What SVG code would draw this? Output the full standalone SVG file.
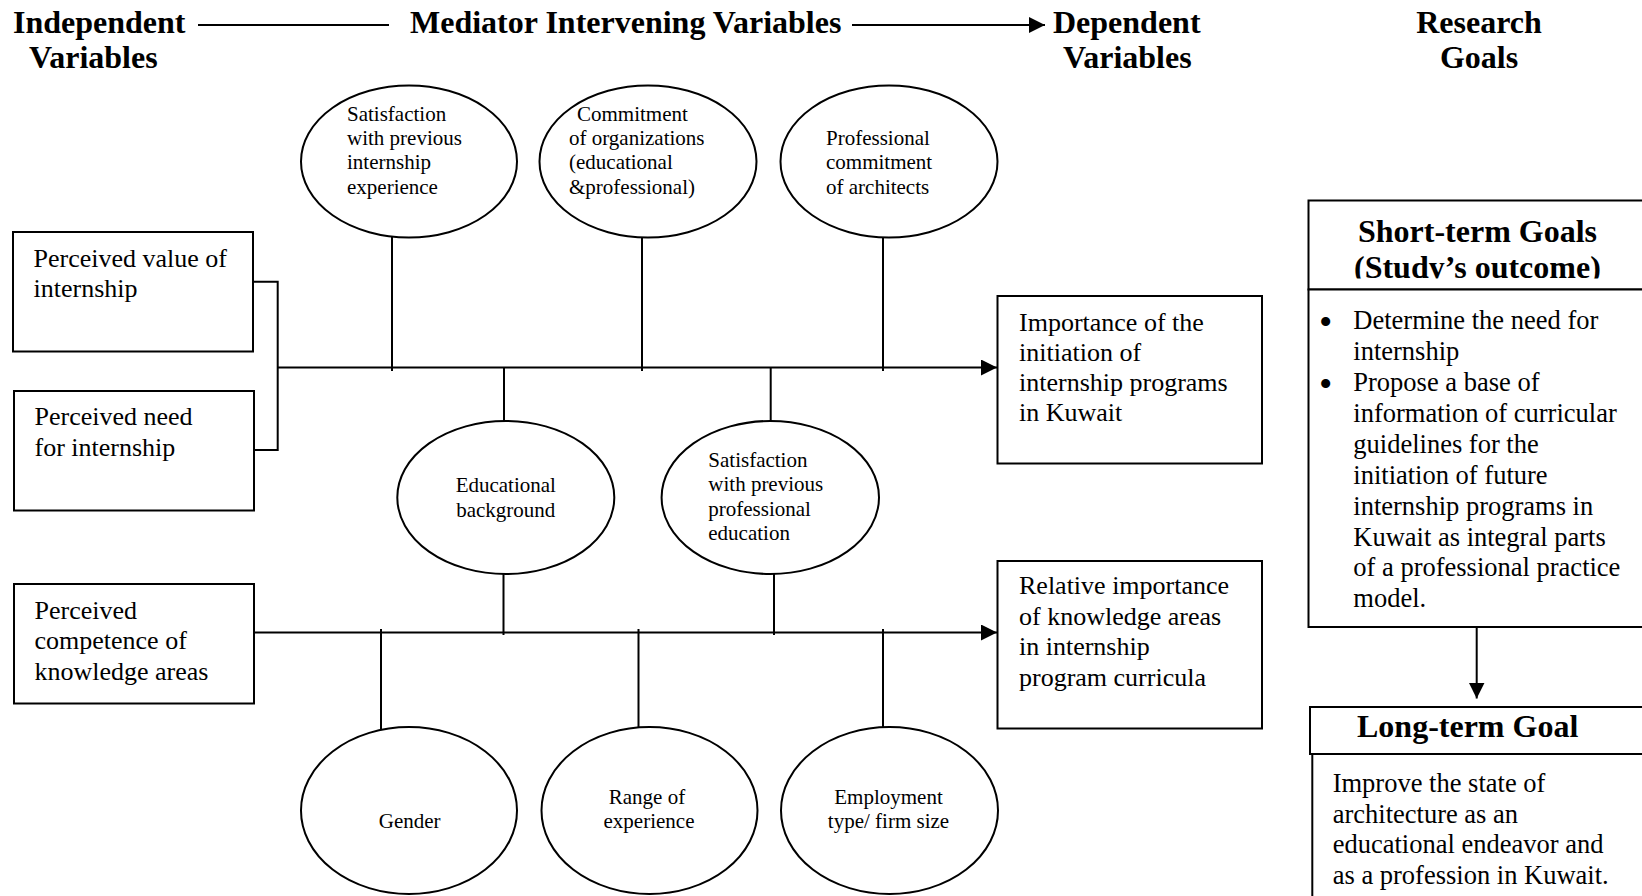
<svg xmlns="http://www.w3.org/2000/svg" width="1642" height="896" viewBox="0 0 1642 896">
<style>
text{font-family:"Liberation Serif","Times New Roman",serif;fill:#000}
.h{font-size:32px;font-weight:bold}
.b{font-size:26px}
.g{font-size:26.5px}
.e{font-size:21px}
.bu{font-size:38px}
.s{fill:#fff;stroke:#000;stroke-width:2}
.l{stroke:#000;stroke-width:2;fill:none}
</style>
<defs>
<marker id="ah" viewBox="0 0 16 16" refX="16" refY="8" markerWidth="16" markerHeight="16" markerUnits="userSpaceOnUse" orient="auto"><path d="M0,0 L16,8 L0,16 Z" fill="#000"/></marker>
<clipPath id="hc"><rect x="1300" y="195" width="342" height="83.5"/></clipPath>
</defs>
<rect width="1642" height="896" fill="#fff"/>
<g id="headings">
<text class="h" x="13" y="33">Independent</text>
<text class="h" x="29" y="68">Variables</text>
<text class="h" x="410" y="33">Mediator Intervening Variables</text>
<text class="h" x="1053" y="33">Dependent</text>
<text class="h" x="1063" y="68">Variables</text>
<text class="h" x="1479" y="33" text-anchor="middle">Research</text>
<text class="h" x="1479" y="68" text-anchor="middle">Goals</text>
</g>
<g id="connectors">
<line class="l" x1="198" y1="25" x2="389" y2="25"/>
<line class="l" x1="852" y1="25" x2="1045" y2="25" marker-end="url(#ah)"/>
<polyline class="l" points="253,281.7 277.7,281.7 277.7,450 254,450"/>
<line class="l" x1="277.7" y1="367.5" x2="997" y2="367.5" marker-end="url(#ah)"/>
<line class="l" x1="254" y1="632.5" x2="997" y2="632.5" marker-end="url(#ah)"/>
<line class="l" x1="392" y1="236" x2="392" y2="371"/>
<line class="l" x1="642" y1="237" x2="642" y2="371"/>
<line class="l" x1="883" y1="237" x2="883" y2="371"/>
<line class="l" x1="504" y1="367.5" x2="504" y2="421"/>
<line class="l" x1="770.7" y1="367.5" x2="770.7" y2="421"/>
<line class="l" x1="503.5" y1="574" x2="503.5" y2="635"/>
<line class="l" x1="774" y1="574" x2="774" y2="635"/>
<line class="l" x1="381" y1="629" x2="381" y2="731"/>
<line class="l" x1="638.5" y1="629" x2="638.5" y2="728"/>
<line class="l" x1="883" y1="629" x2="883" y2="728"/>
<line class="l" x1="1476.7" y1="627" x2="1476.7" y2="698.5" marker-end="url(#ah)"/>
</g>
<g id="iv1"><rect class="s" x="13" y="232" width="240" height="119.5"/>
<text class="b" x="33.5" y="266.5">Perceived value of</text>
<text class="b" x="33.5" y="297">internship</text></g>
<g id="iv2"><rect class="s" x="14" y="391" width="240" height="119.5"/>
<text class="b" x="34.5" y="425">Perceived need</text>
<text class="b" x="34.5" y="455.5">for internship</text></g>
<g id="iv3"><rect class="s" x="14" y="584" width="240" height="119.5"/>
<text class="b" x="34.5" y="618.5">Perceived</text>
<text class="b" x="34.5" y="649">competence of</text>
<text class="b" x="34.5" y="679.5">knowledge areas</text></g>
<g id="m1"><ellipse class="s" cx="409" cy="161.5" rx="108" ry="76"/>
<text class="e" x="347" y="120.5">Satisfaction</text>
<text class="e" x="347" y="145">with previous</text>
<text class="e" x="347" y="169.3">internship</text>
<text class="e" x="347" y="193.5">experience</text></g>
<g id="m2"><ellipse class="s" cx="648" cy="161.5" rx="108.5" ry="76"/>
<text class="e" x="577" y="120.5">Commitment</text>
<text class="e" x="569" y="145">of organizations</text>
<text class="e" x="569" y="169.3">(educational</text>
<text class="e" x="569" y="193.5">&amp;professional)</text></g>
<g id="m3"><ellipse class="s" cx="889" cy="161.5" rx="108.5" ry="76"/>
<text class="e" x="826" y="145">Professional</text>
<text class="e" x="826" y="169.3">commitment</text>
<text class="e" x="826" y="193.5">of architects</text></g>
<g id="m4"><ellipse class="s" cx="505.8" cy="497.5" rx="108.5" ry="76.5"/>
<text class="e" x="505.8" y="492.3" text-anchor="middle">Educational</text>
<text class="e" x="505.8" y="516.7" text-anchor="middle">background</text></g>
<g id="m5"><ellipse class="s" cx="770.3" cy="497.5" rx="108.7" ry="76.5"/>
<text class="e" x="708.3" y="467.3">Satisfaction</text>
<text class="e" x="708.3" y="491.3">with previous</text>
<text class="e" x="708.3" y="515.7">professional</text>
<text class="e" x="708.3" y="540.3">education</text></g>
<g id="m6"><ellipse class="s" cx="409" cy="810.5" rx="108" ry="83.5"/>
<text class="e" x="409.7" y="828" text-anchor="middle">Gender</text></g>
<g id="m7"><ellipse class="s" cx="649.5" cy="810.5" rx="108" ry="83.5"/>
<text class="e" x="647" y="804" text-anchor="middle">Range of</text>
<text class="e" x="649" y="828" text-anchor="middle">experience</text></g>
<g id="m8"><ellipse class="s" cx="889.5" cy="810.5" rx="108.5" ry="83.5"/>
<text class="e" x="888.5" y="804" text-anchor="middle">Employment</text>
<text class="e" x="888.5" y="828" text-anchor="middle">type/ firm size</text></g>
<g id="dv1"><rect class="s" x="997.5" y="296" width="264.5" height="167.5"/>
<text class="b" x="1019" y="330.7">Importance of the</text>
<text class="b" x="1019" y="360.7">initiation of</text>
<text class="b" x="1019" y="390.7">internship programs</text>
<text class="b" x="1019" y="421">in Kuwait</text></g>
<g id="dv2"><rect class="s" x="997.5" y="561" width="264.5" height="167.5"/>
<text class="b" x="1019" y="594">Relative importance</text>
<text class="b" x="1019" y="624.5">of knowledge areas</text>
<text class="b" x="1019" y="655">in internship</text>
<text class="b" x="1019" y="685.5">program curricula</text></g>
<g id="short-term">
<rect class="s" x="1308.5" y="200.5" width="360" height="89"/>
<g clip-path="url(#hc)">
<text class="h" x="1358" y="241.5">Short-term Goals</text>
<text class="h" x="1354" y="277.5">(Study’s outcome)</text>
</g>
<rect class="s" x="1308.5" y="289.5" width="360" height="337.5"/>
<text class="bu" x="1319" y="335">•</text>
<text class="g" x="1353.3" y="329">Determine the need for</text>
<text class="g" x="1353.3" y="360">internship</text>
<text class="bu" x="1319" y="397">•</text>
<text class="g" x="1353.3" y="391">Propose a base of</text>
<text class="g" x="1353.3" y="422">information of curricular</text>
<text class="g" x="1353.3" y="452.8">guidelines for the</text>
<text class="g" x="1353.3" y="483.7">initiation of future</text>
<text class="g" x="1353.3" y="514.6">internship programs in</text>
<text class="g" x="1353.3" y="545.5">Kuwait as integral parts</text>
<text class="g" x="1353.3" y="576.4">of a professional practice</text>
<text class="g" x="1353.3" y="607.3">model.</text>
</g>
<g id="long-term">
<rect class="s" x="1310" y="707" width="360" height="47"/>
<text class="h" x="1357" y="737">Long-term Goal</text>
<polyline class="l" points="1312.3,754 1312.3,900"/>
<text class="g" x="1332.7" y="792">Improve the state of</text>
<text class="g" x="1332.7" y="822.5">architecture as an</text>
<text class="g" x="1332.7" y="853">educational endeavor and</text>
<text class="g" x="1332.7" y="883.5">as a profession in Kuwait.</text>
</g>
</svg>
